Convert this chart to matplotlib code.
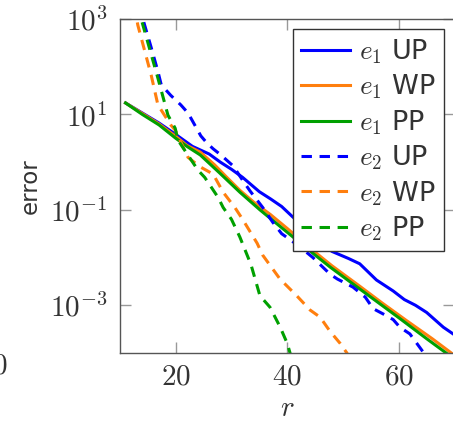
import matplotlib
matplotlib.use('Agg')
import matplotlib.pyplot as plt
from matplotlib.ticker import FixedLocator, FuncFormatter, NullLocator
import numpy as np

# log10(error)
r_e1_up = [11, 14, 17, 20, 23, 26, 28, 30, 32, 34, 35, 37, 39, 41, 44, 48, 51, 53, 56, 59, 61, 63, 65, 68, 70]
e1_up = [1.24, 1.03, 0.82, 0.58, 0.33, 0.17, 0.0, -0.15, -0.32, -0.52, -0.62, -0.77, -0.93, -1.15, -1.45,
         -1.87, -2.02, -2.13, -2.47, -2.7, -2.88, -3.0, -3.15, -3.46, -3.62]

r_e1_wp = [11, 14, 17, 20, 22, 24.4, 27, 29, 31.5, 34, 37, 40, 44.6, 48, 53, 57, 61.5, 66, 70]
e1_wp = [1.24, 1.02, 0.8, 0.54, 0.35, 0.21, -0.06, -0.3, -0.59, -0.84, -1.1, -1.39, -1.85, -2.17, -2.6,
         -2.95, -3.33, -3.7, -4.05]

r_e1_pp = [11, 14, 17, 20, 22, 24.4, 27.9, 31.5, 35.1, 40, 44.6, 47.7, 55, 60, 65, 68.5, 70]
e1_pp = [1.24, 1.0, 0.78, 0.5, 0.33, 0.15, -0.23, -0.63, -1.0, -1.47, -1.91, -2.2, -2.83, -3.26, -3.7,
         -4.0, -4.13]

r_e2_up = [13.5, 14.1, 15.6, 16.8, 17.4, 19.1, 20.9, 22.2, 24.5, 25.6, 26.7, 28.1, 30.3, 32, 33.3, 35.6,
           37.4, 39, 42, 44.6, 47.7, 49, 51.8, 54, 55.4, 57.5, 59, 60.2, 62, 64.5, 65.5]
e2_up = [3.3, 3.0, 2.4, 1.9, 1.62, 1.4, 1.2, 1.03, 0.55, 0.4, 0.28, 0.15, -0.08, -0.38, -0.6, -0.95,
         -1.26, -1.5, -1.75, -2.0, -2.35, -2.45, -2.62, -2.83, -3.07, -3.2, -3.3, -3.46, -3.6, -4.0, -4.2]

r_e2_wp = [12.5, 13.2, 15.6, 16.8, 19.1, 19.9, 22.2, 24.4, 26.7, 28.5, 30.6, 32, 34.6, 35.6, 38.7, 41.7,
           44.1, 45.9, 47.7, 49.5, 50.7, 51.5]
e2_wp = [3.3, 2.87, 1.82, 1.2, 0.78, 0.67, 0.1, -0.1, -0.25, -0.63, -0.95, -1.2, -1.7, -1.95, -2.45, -2.8,
         -3.1, -3.25, -3.55, -3.8, -4.0, -4.2]

r_e2_pp = [13.3, 13.8, 16.8, 18.6, 19.9, 20.4, 24, 25.2, 27.6, 28.5, 30, 31.5, 33.5, 35.1, 36.9, 38.7,
           40, 40.5, 41]
e2_pp = [3.3, 3.0, 1.76, 0.985, 0.71, 0.46, -0.17, -0.32, -0.74, -0.95, -1.2, -1.57, -2.15, -2.8, -3.04,
         -3.45, -3.8, -4.0, -4.2]

labels = [r'$e_1$ UP', r'$e_1$ WP', r'$e_1$ PP', r'$e_2$ UP', r'$e_2$ WP', r'$e_2$ PP']
colors = ['#0000ff', '#ff7f0e', '#00a000']

plt.rcParams['mathtext.fontset'] = 'cm'
plt.rcParams['font.family'] = ['DejaVu Sans']
plt.rcParams['lines.scale_dashes'] = False

fig = plt.figure(figsize=(4.53, 4.21), dpi=100)
ax = fig.add_axes([120 / 453, 1 - 353 / 421, 334.5 / 453, 334 / 421])

series = [(r_e1_up, e1_up), (r_e1_wp, e1_wp), (r_e1_pp, e1_pp),
          (r_e2_up, e2_up), (r_e2_wp, e2_wp), (r_e2_pp, e2_pp)]
for i, (r, e) in enumerate(series):
    c = colors[i % 3]
    if i < 3:
        ax.plot(r, 10.0 ** np.array(e), color=c, lw=2.2, label=labels[i])
    else:
        ax.plot(r, 10.0 ** np.array(e), color=c, lw=2.2, dashes=(7.5, 5.5), label=labels[i])

ax.set_yscale('log')
ax.set_xlim(10, 70)
ax.set_ylim(1e-4, 1e3)
ax.xaxis.set_major_locator(FixedLocator([20, 40, 60]))
ax.yaxis.set_major_locator(FixedLocator([1e-3, 1e-1, 1e1, 1e3]))
ax.yaxis.set_minor_locator(NullLocator())
ax.xaxis.set_major_formatter(FuncFormatter(lambda v, p: r'$%d$' % v))
ax.yaxis.set_major_formatter(FuncFormatter(lambda v, p: r'$10^{%d}$' % round(np.log10(v))))
ax.tick_params(which='major', direction='in', length=8, width=1.0, color='#999999',
               top=True, right=True, labelsize=21, labelcolor='#333333')
ax.tick_params(axis='y', pad=9)
ax.tick_params(axis='x', pad=7)
for s in ax.spines.values():
    s.set_color('#555555')
    s.set_linewidth(1.0)

ax.set_xlabel(r'$r$', fontsize=21, color='#333333', labelpad=2)
ax.set_ylabel('error', fontsize=16.5, color='#333333', labelpad=6)

leg = ax.legend(loc='upper right', fontsize=19.5, frameon=True, fancybox=False, framealpha=1,
                edgecolor='#333333', borderaxespad=0.38, handlelength=1.8, handletextpad=0.35,
                labelspacing=0.25, borderpad=0.3)
leg.get_frame().set_linewidth(1.0)
for t in leg.get_texts():
    t.set_color('#333333')

fig.text(7 / 453, 1 - 366 / 421, r'$0$', fontsize=21, color='#333333', ha='right', va='center')

fig.savefig('out.png', dpi=100)
